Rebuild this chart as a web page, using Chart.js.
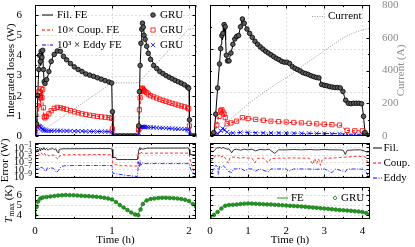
<!DOCTYPE html>
<html><head><meta charset="utf-8">
<script src="https://cdn.jsdelivr.net/npm/chart.js@4"></script>
<style>
html,body{margin:0;padding:0;background:#fff;width:415px;height:247px;overflow:hidden}
canvas{position:absolute;left:0;top:0}
</style></head>
<body>
<canvas id="cA" width="415" height="247"></canvas>
<canvas id="cB" width="415" height="247"></canvas>
<canvas id="cC" width="415" height="247"></canvas>
<canvas id="cD" width="415" height="247"></canvas>
<canvas id="cE" width="415" height="247"></canvas>
<canvas id="cF" width="415" height="247"></canvas>
<script>
// ================= DATA =================
// Left column (fast ramp), time in h, losses in W
const feFil_L = [[0,0],[0.013,0.05],[0.03,1.3],[0.043,2.8],[0.056,3.75],[0.065,4.1],[0.074,3.5],[0.082,4.25],[0.091,3.9],[0.1,4.28],[0.108,3.4],[0.117,2.8],[0.126,2.55],[0.139,2.75],[0.152,2.8],[0.173,3.05],[0.195,3.5],[0.238,4.0],[0.281,4.22],[0.316,4.25],[0.346,4.1],[0.411,3.76],[0.541,3.34],[0.671,3.06],[0.801,2.9],[0.931,2.72],[0.996,2.64],[1.003,1.2],[1.012,0],[1.34,0],[1.35,1.0],[1.357,2.1],[1.364,3.4],[1.377,4.6],[1.385,5.2],[1.398,5.65],[1.407,5.5],[1.416,5.1],[1.429,4.9],[1.45,4.5],[1.472,4.17],[1.515,3.76],[1.58,3.35],[1.667,3.1],[1.753,2.9],[1.84,2.72],[1.926,2.57],[1.991,2.4],[2.0,2.36],[2.005,0.8],[2.015,0],[2.09,0]];
const feCoup_L = [[0,0],[0.013,0.05],[0.03,0.63],[0.043,1.29],[0.056,1.78],[0.065,2.27],[0.074,1.45],[0.082,2.36],[0.091,1.78],[0.1,2.27],[0.108,1.29],[0.117,0.96],[0.126,0.85],[0.139,0.92],[0.16,1.05],[0.2,1.25],[0.25,1.37],[0.3,1.42],[0.35,1.4],[0.4,1.33],[0.5,1.22],[0.6,1.13],[0.7,1.05],[0.8,0.99],[0.9,0.94],[0.996,0.89],[1.003,0.4],[1.012,0],[1.34,0],[1.35,0.5],[1.36,1.3],[1.37,1.9],[1.385,2.27],[1.398,2.4],[1.42,2.25],[1.45,2.19],[1.5,2.02],[1.54,1.94],[1.62,1.81],[1.71,1.7],[1.8,1.58],[1.88,1.48],[1.97,1.37],[2.0,1.32],[2.005,0.5],[2.015,0],[2.09,0]];
const feEddy_L = [[0,0],[0.013,0.13],[0.043,0.38],[0.056,0.49],[0.065,0.54],[0.087,0.38],[0.108,0.3],[0.152,0.26],[0.3,0.26],[0.5,0.25],[0.7,0.23],[0.9,0.22],[0.996,0.21],[1.003,0.1],[1.012,0],[1.34,0],[1.35,0.2],[1.364,0.38],[1.385,0.46],[1.45,0.44],[1.58,0.41],[1.71,0.38],[1.88,0.33],[2.0,0.3],[2.005,0.1],[2.015,0],[2.09,0]];
const cur_L = [[0,0],[1.0,325],[1.34,325],[2.0,655],[2.09,655]];
const gruT_L = [0.02,0.035,0.05,0.06,0.07,0.08,0.09,0.10,0.11,0.12,0.13,0.15,0.18,0.21,0.25,0.29,0.33,0.37,0.41,0.46,0.51,0.56,0.61,0.66,0.71,0.76,0.81,0.86,0.91,0.96,0.995,1.005,1.05,1.10,1.15,1.20,1.25,1.30,1.345,1.355,1.365,1.375,1.385,1.395,1.405,1.415,1.43,1.45,1.47,1.50,1.54,1.58,1.62,1.66,1.70,1.74,1.78,1.82,1.86,1.90,1.94,1.98,1.995,2.005,2.04,2.08];
const gruFil_L = [0.6,2.0,3.3,4.0,3.7,4.2,3.9,4.25,3.3,2.7,2.6,2.8,3.2,3.7,4.05,4.22,4.2,3.95,3.78,3.6,3.43,3.3,3.2,3.08,3.02,2.96,2.89,2.82,2.75,2.68,2.63,1.2,0,0,0,0,0,0,0.5,2.2,3.5,4.6,5.3,5.6,5.4,5.0,4.8,4.45,4.1,3.8,3.5,3.35,3.2,3.1,3.0,2.92,2.84,2.76,2.69,2.62,2.54,2.43,2.37,0.8,0,0];
const gruCoup_L = [0.5,1.5,2.2,2.0,1.9,2.35,1.9,2.3,1.4,0.95,0.9,0.98,1.1,1.25,1.37,1.42,1.4,1.36,1.32,1.26,1.2,1.15,1.1,1.07,1.03,1.0,0.97,0.95,0.93,0.91,0.88,0.35,0,0,0,0,0,0,0.3,1.3,1.9,2.2,2.35,2.38,2.3,2.25,2.2,2.15,2.08,2.0,1.94,1.88,1.82,1.77,1.72,1.67,1.62,1.58,1.53,1.49,1.45,1.4,1.35,0.5,0,0];
const gruEddy_L = [0.2,0.42,0.5,0.48,0.44,0.4,0.36,0.33,0.3,0.28,0.27,0.26,0.26,0.26,0.26,0.26,0.26,0.25,0.25,0.25,0.24,0.24,0.24,0.23,0.23,0.23,0.22,0.22,0.22,0.22,0.21,0.1,0,0,0,0,0,0,0.15,0.35,0.42,0.45,0.46,0.46,0.45,0.45,0.44,0.44,0.43,0.43,0.42,0.41,0.4,0.4,0.39,0.38,0.37,0.36,0.35,0.35,0.34,0.32,0.3,0.1,0,0];

// Right column (slow ramp)
const feFil_R = [[0,0],[0.08,0.02],[0.114,0.1],[0.15,0.5],[0.2,1.1],[0.263,1.8],[0.29,2.1],[0.31,2.3],[0.33,2.2],[0.35,2.5],[0.365,2.35],[0.377,2.6],[0.39,2.4],[0.4,2.55],[0.41,2.2],[0.43,1.8],[0.45,1.75],[0.482,1.68],[0.52,1.8],[0.57,1.97],[0.62,2.15],[0.66,2.25],[0.7,2.3],[0.75,2.3],[0.8,2.5],[0.85,2.7],[0.88,2.62],[0.92,2.55],[1.0,2.4],[1.1,2.27],[1.2,2.16],[1.3,2.07],[1.4,1.98],[1.5,1.92],[1.6,1.86],[1.7,1.8],[1.8,1.75],[1.9,1.71],[2.0,1.68],[2.05,1.7],[2.1,1.63],[2.2,1.57],[2.3,1.52],[2.4,1.47],[2.5,1.43],[2.6,1.4],[2.7,1.37],[2.8,1.34],[2.88,1.32],[2.92,1.2],[3.0,1.16],[3.1,1.14],[3.2,1.12],[3.3,1.11],[3.4,1.1],[3.48,1.05],[3.53,0.9],[3.58,0.76],[3.7,0.74],[3.8,0.75],[3.9,0.75],[3.98,0.74],[4.01,0.6],[4.04,0.35],[4.07,0.08],[4.1,0],[4.2,0]];
const feCoup_R = [[0,0],[0.1,0.02],[0.15,0.15],[0.2,0.35],[0.25,0.5],[0.28,0.6],[0.3,0.55],[0.32,0.62],[0.34,0.5],[0.36,0.55],[0.38,0.45],[0.4,0.42],[0.43,0.3],[0.48,0.27],[0.55,0.3],[0.65,0.33],[0.75,0.35],[0.85,0.42],[0.95,0.41],[1.1,0.39],[1.3,0.37],[1.5,0.35],[1.7,0.33],[1.9,0.32],[2.1,0.31],[2.3,0.3],[2.5,0.29],[2.7,0.28],[2.9,0.27],[3.1,0.26],[3.3,0.25],[3.45,0.24],[3.5,0.2],[3.55,0.13],[3.7,0.12],[3.9,0.12],[4.02,0.1],[4.06,0.03],[4.1,0],[4.2,0]];
const feEddy_R = [[0,0],[0.15,0.02],[0.25,0.08],[0.32,0.15],[0.35,0.18],[0.38,0.13],[0.42,0.1],[0.5,0.07],[0.7,0.07],[0.85,0.09],[1.0,0.08],[1.5,0.07],[2.0,0.07],[2.5,0.06],[3.0,0.06],[3.5,0.05],[3.6,0.04],[4.0,0.04],[4.06,0.01],[4.1,0],[4.2,0]];
const cur_R = [[0,0],[0.25,30],[0.5,95],[0.75,145],[1.0,195],[1.25,240],[1.5,280],[1.75,320],[2.0,355],[2.25,395],[2.5,440],[2.75,480],[3.0,520],[3.25,560],[3.5,600],[3.75,628],[4.0,648],[4.2,658]];
const gruT_R = [0.05,0.1,0.15,0.2,0.25,0.28,0.31,0.34,0.37,0.40,0.43,0.46,0.50,0.55,0.60,0.65,0.70,0.75,0.80,0.85,0.90,0.97,1.04,1.11,1.18,1.25,1.32,1.39,1.46,1.53,1.60,1.67,1.74,1.81,1.88,1.95,2.02,2.09,2.16,2.23,2.30,2.37,2.44,2.51,2.58,2.65,2.72,2.79,2.86,2.93,3.00,3.07,3.14,3.21,3.28,3.35,3.42,3.49,3.56,3.63,3.70,3.77,3.84,3.91,3.98,4.03,4.07,4.12,4.17];
const gruFil_R = [0.02,0.08,0.5,1.1,1.65,2.0,2.3,2.35,2.55,2.5,1.85,1.72,1.72,1.9,2.1,2.22,2.28,2.3,2.5,2.68,2.58,2.45,2.35,2.26,2.17,2.1,2.04,1.99,1.94,1.9,1.86,1.82,1.78,1.75,1.71,1.69,1.69,1.66,1.59,1.55,1.52,1.49,1.45,1.43,1.41,1.38,1.36,1.34,1.33,1.18,1.16,1.15,1.13,1.12,1.11,1.11,1.1,1.02,0.82,0.75,0.74,0.75,0.75,0.75,0.74,0.45,0.08,0.01,0];
const gruCoupT_R = [0.1,0.18,0.24,0.28,0.31,0.34,0.37,0.40,0.45,0.55,0.7,0.85,1.0,1.2,1.4,1.6,1.8,2.0,2.2,2.4,2.6,2.8,3.0,3.2,3.4,3.6,3.8,4.0,4.1];
const gruCoup_R = [0.02,0.25,0.45,0.58,0.6,0.55,0.5,0.42,0.28,0.3,0.34,0.42,0.4,0.38,0.36,0.34,0.33,0.32,0.31,0.3,0.29,0.28,0.27,0.26,0.25,0.13,0.12,0.12,0.02];
const gruEddyT_R = [0.1,0.2,0.28,0.33,0.38,0.45,0.6,0.8,1.0,1.2,1.4,1.6,1.8,2.0,2.2,2.4,2.6,2.8,3.0,3.2,3.4,3.6,3.8,4.0,4.1];
const gruEddy_R = [0.01,0.05,0.12,0.17,0.14,0.09,0.07,0.08,0.08,0.07,0.07,0.07,0.07,0.07,0.06,0.06,0.06,0.06,0.06,0.05,0.05,0.04,0.04,0.04,0.01];

// Errors (W), log scale
const errFil_L = [[0.005,2e-3],[0.02,1e-2],[0.03,3e-2],[0.045,8e-3],[0.06,5e-2],[0.07,1e-2],[0.085,6e-2],[0.1,2e-2],[0.115,8e-2],[0.13,2e-2],[0.15,5e-2],[0.17,1.5e-2],[0.19,4e-2],[0.21,3e-2],[0.23,6e-2],[0.25,2e-2],[0.27,4e-2],[0.29,5e-3],[0.3,3e-3],[0.31,2e-2],[0.33,3e-2],[0.36,4e-2],[0.45,4e-2],[0.6,4.2e-2],[0.8,4.5e-2],[0.98,4.5e-2],[1.0,3e-2],[1.01,1.5e-4],[1.05,1.5e-4],[1.06,4e-5],[1.2,4e-5],[1.33,4e-5],[1.345,1e-2],[1.36,8e-2],[1.37,2e-2],[1.38,6e-2],[1.4,3e-2],[1.45,6e-2],[1.6,6e-2],[1.8,6e-2],[1.99,6.5e-2],[2.0,3e-2],[2.01,1e-3],[2.05,9e-4],[2.09,8e-4]];
const errCoup_L = [[0.005,1e-4],[0.02,5e-4],[0.04,2e-3],[0.06,8e-4],[0.08,3e-3],[0.1,1e-3],[0.12,3e-3],[0.14,5e-4],[0.16,1e-3],[0.18,4e-4],[0.2,8e-4],[0.25,6e-4],[0.28,1e-4],[0.3,5e-5],[0.32,4e-4],[0.36,8e-4],[0.5,9e-4],[0.7,9e-4],[0.9,1e-3],[1.0,8e-4],[1.01,3e-6],[1.05,1.5e-6],[1.1,8e-7],[1.33,6e-7],[1.345,1e-3],[1.36,3e-3],[1.37,1e-3],[1.38,4e-3],[1.4,2e-3],[1.5,2.5e-3],[1.8,2.5e-3],[2.0,2.5e-3],[2.02,1e-5],[2.05,1e-7],[2.09,2e-9]];
const errEddy_L = [[0.005,3e-8],[0.02,1e-7],[0.04,3e-7],[0.06,1e-7],[0.08,3e-7],[0.1,2e-7],[0.12,5e-8],[0.14,2e-8],[0.16,2e-7],[0.18,1e-7],[0.2,2e-7],[0.24,1.5e-7],[0.28,1e-8],[0.3,3e-8],[0.34,5e-7],[0.4,8e-7],[0.6,9e-7],[0.8,9e-7],[1.0,9e-7],[1.01,6e-9],[1.1,3e-9],[1.2,1.5e-9],[1.33,8e-10],[1.345,1e-5],[1.355,3e-7],[1.365,2e-5],[1.375,1e-6],[1.39,5e-6],[1.42,3e-6],[1.6,3e-6],[1.8,3e-6],[2.0,3e-6],[2.02,1e-7],[2.05,1e-8],[2.09,1e-9]];
const errFil_R = [[0.03,1e-2],[0.08,5e-3],[0.13,2e-2],[0.18,8e-2],[0.22,6e-2],[0.26,1e-1],[0.3,5e-2],[0.34,9e-2],[0.39,6e-2],[0.45,3e-2],[0.5,4e-2],[0.57,3e-3],[0.62,2e-2],[0.7,3e-2],[0.8,1.5e-2],[0.9,3e-2],[1.0,2e-2],[1.1,3e-2],[1.2,1e-2],[1.3,2.5e-2],[1.45,2e-2],[1.55,3e-2],[1.7,2e-3],[1.8,2e-2],[2.0,2e-2],[2.2,2.5e-2],[2.4,2e-2],[2.6,2.5e-2],[2.75,2e-2],[2.85,2e-2],[3.0,2.5e-2],[3.2,2e-2],[3.4,2e-2],[3.5,1.5e-2],[3.55,1e-3],[3.6,1.5e-2],[3.8,2e-2],[3.95,2e-2],[4.05,1e-2],[4.12,5e-3],[4.2,6e-3]];
const errCoup_R = [[0.03,1e-5],[0.08,1e-4],[0.13,3e-4],[0.18,1e-3],[0.22,4e-4],[0.27,8e-4],[0.31,2e-4],[0.35,5e-4],[0.4,1e-4],[0.48,4e-6],[0.52,1e-4],[0.6,2e-4],[0.7,1.5e-4],[0.8,1e-4],[0.9,1.5e-4],[1.0,1e-4],[1.1,1e-4],[1.18,5e-6],[1.25,8e-5],[1.4,1e-4],[1.53,5e-6],[1.6,8e-5],[1.8,1e-4],[2.0,1e-4],[2.2,1.2e-4],[2.4,1e-4],[2.6,1e-4],[2.7,2e-6],[2.75,8e-5],[2.8,3e-6],[2.85,6e-5],[2.9,1e-6],[2.95,5e-5],[3.0,1e-4],[3.2,1e-4],[3.4,1.5e-4],[3.6,2e-4],[3.8,3e-4],[4.0,3e-4],[4.08,2e-4],[4.17,1e-6]];
const errEddy_R = [[0.03,5e-9],[0.1,1e-7],[0.15,1e-6],[0.2,5e-7],[0.22,3e-9],[0.25,6e-7],[0.3,3e-7],[0.35,8e-7],[0.4,2e-7],[0.48,2e-8],[0.57,1e-8],[0.62,1e-7],[0.7,1e-7],[0.8,1.5e-7],[0.92,3e-8],[1.0,1e-7],[1.1,1e-7],[1.18,2e-8],[1.3,1e-7],[1.53,1.5e-8],[1.6,1e-7],[1.8,1e-7],[2.0,1e-7],[2.06,2e-8],[2.2,1e-7],[2.5,1e-7],[2.8,8e-8],[3.0,1e-7],[3.2,1e-8],[3.3,1e-7],[3.55,1.5e-8],[3.6,8e-8],[3.8,1e-7],[4.0,8e-8],[4.08,3e-8],[4.17,5e-10]];

// Maximum temperature (K)
const tFE_L = [[0,4.0],[0.01,4.5],[0.03,5.2],[0.06,5.6],[0.1,5.75],[0.2,5.85],[0.3,5.95],[0.4,6.0],[0.5,5.97],[0.6,5.92],[0.7,5.88],[0.8,5.82],[0.9,5.72],[1.0,5.55],[1.05,5.3],[1.1,5.0],[1.15,4.75],[1.2,4.5],[1.25,4.25],[1.3,4.05],[1.335,4.0],[1.36,4.45],[1.39,5.0],[1.43,5.45],[1.5,5.6],[1.6,5.7],[1.7,5.72],[1.8,5.68],[1.9,5.6],[1.97,5.45],[2.02,5.2],[2.06,5.0],[2.09,4.85]];
const tGruT_L = [0,0.02,0.04,0.07,0.1,0.15,0.2,0.25,0.3,0.35,0.4,0.45,0.5,0.55,0.6,0.65,0.7,0.75,0.8,0.85,0.9,0.95,1.0,1.05,1.1,1.15,1.2,1.25,1.3,1.34,1.37,1.4,1.45,1.5,1.55,1.6,1.65,1.7,1.75,1.8,1.85,1.9,1.95,2.0,2.05,2.09];
const tGru_L = [4.0,4.8,5.35,5.65,5.75,5.8,5.85,5.9,5.95,5.97,6.0,5.98,5.97,5.95,5.92,5.9,5.88,5.85,5.82,5.78,5.72,5.65,5.55,5.3,5.0,4.75,4.5,4.25,4.05,3.98,4.55,5.1,5.45,5.6,5.65,5.7,5.72,5.72,5.7,5.68,5.65,5.6,5.52,5.4,5.1,4.85];
const tFE_R = [[0,3.8],[0.05,3.9],[0.1,4.1],[0.2,4.35],[0.3,4.7],[0.4,4.95],[0.5,5.0],[0.6,5.02],[0.8,5.1],[1.0,5.15],[1.2,5.12],[1.4,5.08],[1.6,5.05],[1.8,5.0],[2.0,4.95],[2.2,4.9],[2.4,4.85],[2.6,4.78],[2.8,4.72],[3.0,4.65],[3.2,4.58],[3.4,4.5],[3.6,4.45],[3.8,4.38],[4.0,4.3],[4.1,4.2],[4.2,4.05]];
const tGruT_R = [0,0.1,0.2,0.3,0.4,0.5,0.6,0.7,0.8,0.9,1.0,1.1,1.2,1.3,1.4,1.5,1.6,1.7,1.8,1.9,2.0,2.1,2.2,2.3,2.4,2.5,2.6,2.7,2.8,2.9,3.0,3.1,3.2,3.3,3.4,3.5,3.6,3.7,3.8,3.9,4.0,4.1,4.2];
const tGru_R = [3.8,4.0,4.3,4.65,4.92,5.0,5.02,5.05,5.1,5.13,5.15,5.14,5.12,5.1,5.08,5.06,5.05,5.02,5.0,4.98,4.95,4.92,4.9,4.88,4.85,4.82,4.78,4.75,4.72,4.68,4.65,4.62,4.58,4.54,4.5,4.48,4.45,4.42,4.38,4.35,4.3,4.2,4.05];

// Tick labels
const lossTicks_L = [0,1,2,3,4,5,6];
const lossTicks_R = [0,1,2,3];
const curTicks = [0,200,400,600,800];
const errTickExp = [-1,-3,-5,-7,-9];
const tTicks = [4,5,6];
const timeTicks_L = [0,1,2];
const timeTicks_R = [0,1,2,3,4];

// ================= RENDERING =================
const FONT = "'Liberation Serif','DejaVu Serif',serif";
Chart.defaults.font.family = FONT;
Chart.defaults.font.size = 11;
Chart.defaults.color = '#000';
const GREEN = '#1f9a1f', GRAY = '#8c8c8c', MFILL = '#5a5a5a';
const DASH_R = [3,2], DASH_B = [4,1.5,1,1.5];

const P = a => a.map(p => ({x:p[0], y:p[1]}));
const Z = (t,v) => t.slice(0, Math.min(t.length, v.length)).map((x,i) => ({x, y:v[i]}));
const L = (data,color,dash,w,axis) => ({data, borderColor:color, borderWidth:w||1, borderDash:dash||[], pointRadius:0, pointHoverRadius:0, fill:false, tension:0, yAxisID:axis||'y'});
const M = (data,style,color,fill,r) => ({data, showLine:false, pointStyle:style, pointRadius:r, pointHoverRadius:r, pointBorderColor:color, pointBackgroundColor:fill, pointBorderWidth:0.8, borderColor:color, backgroundColor:fill, yAxisID:'y'});

function zeroPad(s){ s.paddingTop=0; s.paddingBottom=0; s.paddingLeft=0; s.paddingRight=0; }
const xAxis = (max, labels) => ({type:'linear', min:0, max, display:!!labels, grid:{display:false}, border:{display:false},
  afterBuildTicks: s => { if (labels) s.ticks = labels.map(v => ({value:v})); },
  ticks:{padding:-2, autoSkip:false, maxRotation:0, includeBounds:false},
  afterFit: s => { s.height = labels ? 28 : 0; zeroPad(s); }});
const yAxis = (min,max,labels,width,pos,color,pad) => ({type:'linear', position:pos||'left', min, max, display:!!labels, grid:{display:false}, border:{display:false},
  afterBuildTicks: s => { if (labels) s.ticks = labels.map(v => ({value:v})); },
  ticks:{padding:pad||5, autoSkip:false, color:color||'#000', includeBounds:false},
  afterFit: s => { s.width = labels ? width : 0; zeroPad(s); }});
const logAxis = () => ({type:'logarithmic', min:3e-10, max:1.6, display:false, afterFit: s => { s.width = 0; zeroPad(s); }});

function seg(ctx,x1,y1,x2,y2,color,dash,w){ ctx.save(); ctx.strokeStyle=color; ctx.lineWidth=w||1; ctx.setLineDash(dash||[]); ctx.beginPath(); ctx.moveTo(x1,y1); ctx.lineTo(x2,y2); ctx.stroke(); ctx.restore(); }
function txt(ctx,s,x,y,o){ o=o||{}; ctx.save(); ctx.font=(o.italic?'italic ':'')+(o.size||11)+'px '+FONT; ctx.fillStyle=o.color||'#000'; ctx.textAlign=o.align||'left'; ctx.textBaseline='middle'; ctx.translate(x,y); if(o.rot) ctx.rotate(o.rot); ctx.fillText(s,0,0); ctx.restore(); }
function mark(ctx,style,x,y,r,stroke,fill){ ctx.save(); ctx.lineWidth=0.8; ctx.strokeStyle=stroke; ctx.fillStyle=fill; ctx.setLineDash([]); ctx.beginPath();
  if(style==='circle'){ ctx.arc(x,y,r,0,Math.PI*2); ctx.fill(); ctx.stroke(); }
  else if(style==='rect'){ ctx.rect(x-r,y-r,2*r,2*r); ctx.fill(); ctx.stroke(); }
  else { ctx.moveTo(x-r,y-r); ctx.lineTo(x+r,y+r); ctx.moveTo(x+r,y-r); ctx.lineTo(x-r,y+r); ctx.stroke(); }
  ctx.restore(); }
const UP = -Math.PI/2;

function deco(spec){
  return {
    id:'deco',
    beforeDatasetsDraw(chart){
      const ctx=chart.ctx, a=chart.chartArea, X=chart.scales.x, Y=chart.scales.y;
      ctx.save(); ctx.strokeStyle='#cfcfcf'; ctx.lineWidth=0.7; ctx.setLineDash([2,2]);
      (spec.gridX||[]).forEach(v=>{ const p=Math.round(X.getPixelForValue(v))+0.5; ctx.beginPath(); ctx.moveTo(p,a.top); ctx.lineTo(p,a.bottom); ctx.stroke(); });
      (spec.gridY||[]).forEach(v=>{ const p=Math.round(Y.getPixelForValue(v))+0.5; ctx.beginPath(); ctx.moveTo(a.left,p); ctx.lineTo(a.right,p); ctx.stroke(); });
      ctx.restore();
    },
    afterDatasetsDraw(chart){
      const ctx=chart.ctx, a=chart.chartArea;
      const Lx=Math.round(a.left)+0.5, Ty=Math.round(a.top)+0.5, Rx=Math.round(a.right)-0.5, By=Math.round(a.bottom)-0.5;
      ctx.save(); ctx.strokeStyle='#000'; ctx.lineWidth=1; ctx.setLineDash([]);
      ctx.strokeRect(Lx,Ty,Rx-Lx,By-Ty);
      (spec.ticks||[]).forEach(tk=>{
        const s=chart.scales[tk.axis];
        [[tk.major||[],3],[tk.minor||[],1.6]].forEach(([vals,len])=>{
          vals.forEach(v=>{
            const p=Math.round(s.getPixelForValue(v))+0.5;
            ctx.beginPath();
            if(s.isHorizontal()){ ctx.moveTo(p,By); ctx.lineTo(p,By-len); ctx.moveTo(p,Ty); ctx.lineTo(p,Ty+len); }
            else {
              if(tk.sides.indexOf('l')>=0){ ctx.moveTo(Lx,p); ctx.lineTo(Lx+len,p); }
              if(tk.sides.indexOf('r')>=0){ ctx.moveTo(Rx,p); ctx.lineTo(Rx-len,p); }
            }
            ctx.stroke();
          });
        });
      });
      ctx.restore();
    },
    afterDraw(chart){ if(spec.extra) spec.extra(chart, chart.ctx, chart.chartArea); }
  };
}

function make(id, pad, scales, datasets, spec){
  return new Chart(document.getElementById(id).getContext('2d'), {
    type:'line', data:{datasets},
    options:{responsive:false, maintainAspectRatio:false, animation:false, devicePixelRatio:1, events:[],
      layout:{padding:pad}, scales,
      plugins:{legend:{display:false}, tooltip:{enabled:false}, title:{display:false}}},
    plugins:[deco(spec)]
  });
}

const halfL = [0.5,1.5], halfR = [0.5,1.5,2.5,3.5];
const decades = [1e-9,1e-8,1e-7,1e-6,1e-5,1e-4,1e-3,1e-2,1e-1,1];

// ---- A: integrated losses, left ----
make('cA', {left:0, top:5, right:219, bottom:111},
  {x: xAxis(2.09,null), y: yAxis(0,6.5,lossTicks_L,35), y2: yAxis(0,800,null,0,'right')},
  [ M(Z(gruT_L,gruFil_L),'circle','#000',MFILL,2.3),
    M(Z(gruT_L,gruCoup_L),'rect','#f00','rgba(255,255,255,0)',3),
    M(Z(gruT_L,gruEddy_L),'crossRot','#00f','#00f',3),
    L(P(feFil_L),'#000'), L(P(feCoup_L),'#f00',DASH_R), L(P(feEddy_L),'#00f',DASH_B),
    L(P(cur_L),GRAY,[1,1.5],0.9,'y2') ],
  { gridX:[1,2], gridY:[1,2,3,4,5,6],
    ticks:[{axis:'x', major:[0,1,2], minor:halfL}, {axis:'y', major:lossTicks_L, minor:[0.5,1.5,2.5,3.5,4.5,5.5], sides:'lr'}],
    extra:(c,ctx)=>{
      txt(ctx,'Integrated losses (W)',11,70.5,{rot:UP,align:'center'});
      const rows=[15,30,45];
      seg(ctx,42,rows[0],53,rows[0],'#000',[],1);
      seg(ctx,42,rows[1],53,rows[1],'#f00',DASH_R,1);
      seg(ctx,42,rows[2],53,rows[2],'#00f',DASH_B,1);
      txt(ctx,'Fil. FE',57,rows[0]); txt(ctx,'10× Coup. FE',57,rows[1]); txt(ctx,'10³ × Eddy FE',57,rows[2]);
      mark(ctx,'circle',153,rows[0],2.3,'#000',MFILL);
      mark(ctx,'rect',153,rows[1],2.1,'#f00','rgba(255,255,255,0)');
      mark(ctx,'cross',153,rows[2],2.1,'#00f','#00f');
      rows.forEach(r=>txt(ctx,'GRU',160,r));
    }});

// ---- B: integrated losses, right ----
make('cB', {left:196, top:5, right:0, bottom:111},
  {x: xAxis(4.2,null), y: yAxis(0,3,lossTicks_R,14), y2: yAxis(0,800,curTicks,45,'right',GRAY,4)},
  [ M(Z(gruT_R,gruFil_R),'circle','#000',MFILL,2.3),
    M(Z(gruCoupT_R,gruCoup_R),'rect','#f00','rgba(255,255,255,0)',3),
    M(Z(gruEddyT_R,gruEddy_R),'crossRot','#00f','#00f',3),
    L(P(feFil_R),'#000'), L(P(feCoup_R),'#f00',DASH_R), L(P(feEddy_R),'#00f',DASH_B),
    L(P(cur_R),GRAY,[1,1.5],0.9,'y2') ],
  { gridX:[1,2,3,4], gridY:[1,2],
    ticks:[{axis:'x', major:timeTicks_R, minor:halfR}, {axis:'y', major:lossTicks_R, minor:[0.5,1.5,2.5], sides:'l'},
           {axis:'y2', major:curTicks, minor:[100,300,500,700], sides:'r'}],
    extra:(c,ctx)=>{
      txt(ctx,'Current (A)',401,70.5,{rot:UP,align:'center',color:GRAY});
      seg(ctx,312,16.5,325,16.5,GRAY,[1,1.5],0.9);
      txt(ctx,'Current',328,16.5);
    }});

function errLabels(c,ctx){
  const Y=c.scales.y;
  errTickExp.forEach(e=>{
    const p=Y.getPixelForValue(Math.pow(10,e));
    ctx.save(); ctx.font='7.5px '+FONT; const ex='\u2212'+Math.abs(e); const w=ctx.measureText(ex).width; ctx.restore();
    txt(ctx,ex,32,p-2.5,{size:7.5,align:'right'});
    txt(ctx,'10',32-w,p+1,{size:10,align:'right'});
  });
}

// ---- C: error, left ----
make('cC', {left:35, top:143, right:219, bottom:69},
  {x: xAxis(2.09,null), y: logAxis()},
  [ L(P(errFil_L),'#000',[],0.8), L(P(errCoup_L),'#f00',DASH_R,0.8), L(P(errEddy_L),'#00f',DASH_B,0.8) ],
  { gridX:[1,2], gridY:[1e-1,1e-3,1e-5,1e-7,1e-9],
    ticks:[{axis:'x', major:[0,1,2], minor:halfL}, {axis:'y', major:decades, sides:'lr'}],
    extra:(c,ctx)=>{ txt(ctx,'Error (W)',5.5,160.5,{rot:UP,align:'center'}); errLabels(c,ctx); }});

// ---- D: error, right ----
make('cD', {left:210, top:143, right:45, bottom:69},
  {x: xAxis(4.2,null), y: logAxis()},
  [ L(P(errFil_R),'#000',[],0.8), L(P(errCoup_R),'#f00',DASH_R,0.8), L(P(errEddy_R),'#00f',DASH_B,0.8) ],
  { gridX:[1,2,3,4], gridY:[1e-1,1e-3,1e-5,1e-7,1e-9],
    ticks:[{axis:'x', major:timeTicks_R, minor:halfR}, {axis:'y', major:decades, sides:'lr'}],
    extra:(c,ctx)=>{
      seg(ctx,373,148,382,148,'#000',[],1); txt(ctx,'Fil.',383.5,148);
      seg(ctx,373,163,382,163,'#f00',DASH_R,1); txt(ctx,'Coup.',383.5,163);
      seg(ctx,373,178,382,178,'#00f',DASH_B,1); txt(ctx,'Eddy',383.5,178);
    }});

function tmaxTitle(ctx,cx,cy){
  ctx.save(); ctx.translate(cx,cy); ctx.rotate(UP); ctx.textBaseline='middle'; ctx.fillStyle='#000';
  const fT='italic 11px '+FONT, fS='8px '+FONT, fK='11px '+FONT;
  ctx.font=fT; const wT=ctx.measureText('T').width;
  ctx.font=fS; const wS=ctx.measureText('max').width;
  ctx.font=fK; const wK=ctx.measureText(' (K)').width;
  let x=-(wT+wS+wK)/2;
  ctx.font=fT; ctx.fillText('T',x,0); x+=wT;
  ctx.font=fS; ctx.fillText('max',x,2.5); x+=wS;
  ctx.font=fK; ctx.fillText(' (K)',x,0);
  ctx.restore();
}

// ---- E: Tmax, left ----
make('cE', {left:0, top:187, right:219, bottom:0},
  {x: xAxis(2.09,timeTicks_L), y: yAxis(3.6,6.8,tTicks,35)},
  [ M(Z(tGruT_L,tGru_L),'circle','#167a16',GREEN,1.8), L(P(tFE_L),GREEN,[],1) ],
  { gridX:[1,2], gridY:tTicks,
    ticks:[{axis:'x', major:timeTicks_L, minor:halfL}, {axis:'y', major:tTicks, minor:[4.5,5.5,6.5], sides:'lr'}],
    extra:(c,ctx)=>{ tmaxTitle(ctx,9.5,204); txt(ctx,'Time (h)',115.5,240,{align:'center'}); }});

// ---- F: Tmax, right ----
make('cF', {left:210, top:187, right:45, bottom:0},
  {x: xAxis(4.2,timeTicks_R), y: yAxis(3.6,6.8,null,0)},
  [ M(Z(tGruT_R,tGru_R),'circle','#167a16',GREEN,1.8), L(P(tFE_R),GREEN,[],1) ],
  { gridX:[1,2,3,4], gridY:tTicks,
    ticks:[{axis:'x', major:timeTicks_R, minor:halfR}, {axis:'y', major:tTicks, minor:[4.5,5.5,6.5], sides:'lr'}],
    extra:(c,ctx)=>{
      txt(ctx,'Time (h)',290,240,{align:'center'});
      seg(ctx,277,198,288,198,GREEN,[],1); txt(ctx,'FE',291,198);
      mark(ctx,'circle',335,198,1.6,'#167a16','rgba(255,255,255,0)'); txt(ctx,'GRU',341,198);
    }});
</script>
</body></html>
